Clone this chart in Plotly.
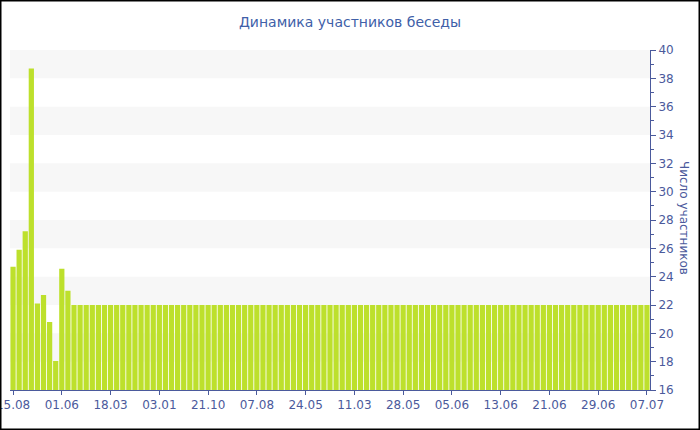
import plotly.graph_objects as go

# Data
participants = [24.7, 25.9, 27.2, 38.7, 22.1, 22.7, 20.8, 18.05, 24.55, 23.0,
                22, 22, 22, 22, 22, 22, 22, 22, 22, 22,
                22, 22, 22, 22, 22, 22, 22, 22, 22, 22,
                22, 22, 22, 22, 22, 22, 22, 22, 22, 22,
                22, 22, 22, 22, 22, 22, 22, 22, 22, 22,
                22, 22, 22, 22, 22, 22, 22, 22, 22, 22,
                22, 22, 22, 22, 22, 22, 22, 22, 22, 22,
                22, 22, 22, 22, 22, 22, 22, 22, 22, 22,
                22, 22, 22, 22, 22, 22, 22, 22, 22, 22,
                22, 22, 22, 22, 22, 22, 22, 22, 22, 22,
                22, 22, 22, 22, 22]
tick_labels = ["15.08", "01.06", "18.03", "03.01", "21.10", "07.08", "24.05",
               "11.03", "28.05", "05.06", "13.06", "21.06", "29.06", "07.07"]
tick_step = 8
y_range = [16, 40]
band_pairs = [(22, 24), (26, 28), (30, 32), (34, 36), (38, 40), (18, 20)]

x_idx = list(range(len(participants)))
tick_vals = [i * tick_step for i in range(len(tick_labels))]

W, H = 700, 430
ML, MR, MT, MB = 10, 50, 50, 40
PW, PH = W - ML - MR, H - MT - MB

blue = "#4b5a9c"
font = "DejaVu Sans, Verdana, sans-serif"

fig = go.Figure()
fig.add_trace(go.Bar(
    x=x_idx, y=participants,
    marker=dict(color="#bde02c", line=dict(width=0)),
    hoverinfo="y",
))

shapes = []
for lo, hi in band_pairs:
    shapes.append(dict(type="rect", xref="paper", yref="y", x0=0, x1=1,
                       y0=lo, y1=hi, fillcolor="#f7f7f7", line=dict(width=0),
                       layer="below"))
shapes.append(dict(type="rect", xref="paper", yref="paper",
                   x0=-ML / PW, x1=1 + MR / PW, y0=-MB / PH, y1=1 + MT / PH,
                   line=dict(color="black", width=3), fillcolor="rgba(0,0,0,0)"))

fig.update_layout(
    width=W, height=H,
    margin=dict(l=ML, r=MR, t=MT, b=MB, autoexpand=False),
    paper_bgcolor="white", plot_bgcolor="white",
    showlegend=False,
    bargap=0.14,
    font=dict(family=font, color=blue, size=12),
    title=dict(text="Динамика участников беседы", x=0.5, xref="container",
               xanchor="center", y=1 - 22 / H, yanchor="middle",
               font=dict(family=font, size=14, color="#4060a8")),
    shapes=shapes,
    annotations=[dict(text="Число участников", xref="paper", yref="paper",
                      x=1 + 34 / PW, y=0.5 + 2 / PH, xanchor="center",
                      yanchor="middle",
                      showarrow=False, textangle=90,
                      font=dict(family=font, size=12, color=blue))],
    xaxis=dict(range=[-0.5, len(participants) - 0.5], tickmode="array",
               tickvals=tick_vals, ticktext=tick_labels, automargin=False,
               ticklabeloverflow="allow",
               showgrid=False, zeroline=False, showline=True, linecolor=blue,
               linewidth=1, ticks="outside", ticklen=4, tickcolor=blue,
               tickfont=dict(size=12, color=blue)),
    yaxis=dict(range=y_range, side="right", dtick=2, tick0=16, automargin=False,
               showgrid=False, zeroline=False, showline=True, linecolor=blue,
               linewidth=1, ticks="outside", ticklen=5, tickcolor=blue,
               tickfont=dict(size=12, color=blue),
               minor=dict(ticks="outside", ticklen=3, dtick=1, tickcolor=blue,
                          showgrid=False)),
)

fig.write_html("out.html", config={"displayModeBar": False},
               post_script="document.body.style.margin='0';"
                           "document.body.style.overflow='hidden';")
